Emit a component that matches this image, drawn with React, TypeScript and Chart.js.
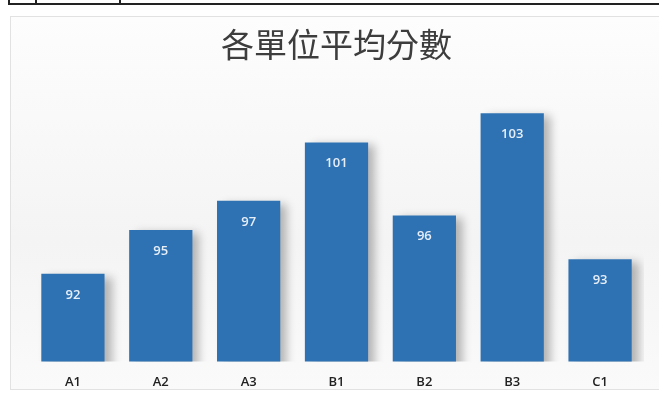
import React, { useEffect, useRef } from "react";
import { Chart, registerables } from "chart.js";

Chart.register(...registerables);

const title = "各單位平均分數";
const categories = ["A1", "A2", "A3", "B1", "B2", "B3", "C1"];
const scores = [92, 95, 97, 101, 96, 103, 93];
const axisMin = 86;
const axisMax = 104;

const barShadow = {
  id: "barShadow",
  beforeDatasetDraw(chart: any) {
    const ctx = chart.ctx;
    ctx.save();
    ctx.shadowColor = "rgba(0,0,0,0.28)";
    ctx.shadowBlur = 9;
    ctx.shadowOffsetX = 7;
    ctx.shadowOffsetY = 3;
  },
  afterDatasetDraw(chart: any) {
    chart.ctx.restore();
  },
};

const valueLabels = {
  id: "valueLabels",
  afterDatasetsDraw(chart: any) {
    const ctx = chart.ctx;
    const meta = chart.getDatasetMeta(0);
    const data = chart.data.datasets[0].data;
    ctx.save();
    ctx.fillStyle = "#e6eef8";
    ctx.font = "600 13px 'Open Sans', 'Noto Sans', sans-serif";
    ctx.textAlign = "center";
    ctx.textBaseline = "middle";
    meta.data.forEach((bar: any, i: number) => {
      ctx.fillText(String(data[i]), bar.x, bar.y + 21);
    });
    ctx.restore();
  },
};

export default function App() {
  const ref = useRef<HTMLCanvasElement>(null);

  useEffect(() => {
    document.body.style.margin = "0";
    const chart = new Chart(ref.current!, {
      type: "bar",
      data: {
        labels: categories,
        datasets: [
          {
            data: scores,
            backgroundColor: "#2f72b3",
            borderWidth: 0,
            barPercentage: 0.72,
            categoryPercentage: 1,
          },
        ],
      },
      options: {
        responsive: false,
        animation: false,
        events: [],
        layout: { padding: { top: 20, left: 29, right: 15, bottom: -7 } },
        plugins: {
          legend: { display: false },
          tooltip: { enabled: false },
          title: {
            display: true,
            text: title,
            color: "#3d3d3d",
            font: { size: 33, weight: "normal", family: "'Noto Sans CJK TC', sans-serif", lineHeight: 1.2 },
            padding: { top: 5, bottom: 34 },
          },
        },
        scales: {
          x: {
            grid: { display: false, drawTicks: false },
            border: { display: false },
            ticks: {
              color: "#222222",
              padding: 13,
              font: { size: 13, weight: "600", family: "'Open Sans', 'Noto Sans', sans-serif", lineHeight: 1.2 },
            },
          },
          y: {
            display: false,
            min: axisMin,
            max: axisMax,
          },
        },
      },
      plugins: [barShadow, valueLabels],
    });
    return () => chart.destroy();
  }, []);

  return (
    <div style={{ position: "relative", width: 659, height: 396, background: "#ffffff", overflow: "hidden" }}>
      <div style={{ position: "absolute", left: 8, top: 3, right: 0, height: 2, background: "#222" }} />
      <div style={{ position: "absolute", left: 8, top: 0, width: 2, height: 5, background: "#222" }} />
      <div style={{ position: "absolute", left: 35, top: 0, width: 2, height: 5, background: "#222" }} />
      <div style={{ position: "absolute", left: 119, top: 0, width: 2, height: 5, background: "#222" }} />
      <div
        style={{
          position: "absolute",
          left: 10,
          top: 16,
          right: -2,
          bottom: 6,
          border: "1px solid #e2e2e2",
          background: "linear-gradient(#fdfdfd, #f4f4f4 60%, #fafafa)",
        }}
      />
      <canvas ref={ref} width={659} height={396} style={{ position: "absolute", left: 0, top: 0 }} />
    </div>
  );
}
